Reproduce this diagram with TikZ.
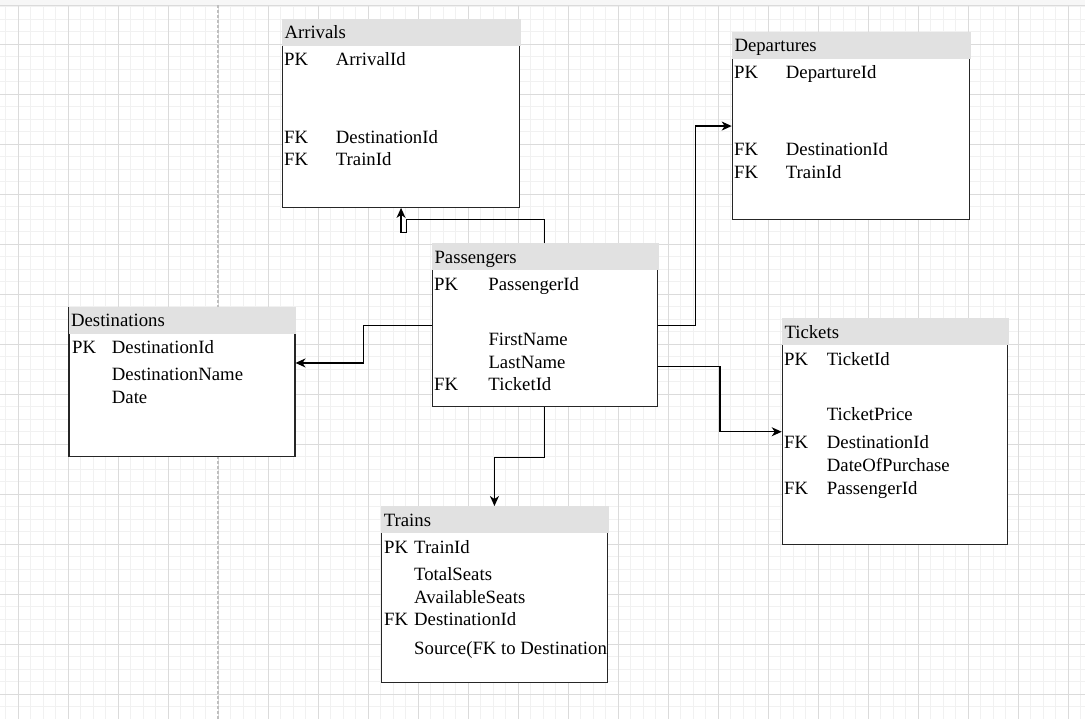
\documentclass[tikz,border=0pt]{standalone}
\usepackage{fontspec}
\setmainfont{Liberation Serif}
\usetikzlibrary{positioning, arrows.meta, calc}

\definecolor{headgray}{HTML}{E1E1E1}
\definecolor{gridmajor}{HTML}{DBDBDB}
\definecolor{gridminor}{HTML}{F1F1F1}
\newcommand{\tablefont}{\fontsize{18.75}{22}\selectfont}

\begin{document}
\begin{tikzpicture}[
    x=1pt, y=-1pt,
    % Table styles
    tablebox/.style={
        rectangle,
        draw=black!85,
        fill=white,
        line width=1.2pt,
        inner sep=0pt,
        anchor=north west,
        minimum width=#1
    },
    tablebox/.default=225pt,
    tablehead/.style={
        rectangle,
        fill=headgray,
        inner sep=0pt,
        inner xsep=2.6pt,
        anchor=north west,
        minimum height=27pt,
        text width=#1,
        align=left,
        text height=13pt,
        text depth=0pt,
        font=\tablefont
    },
    tablehead/.default=221.5pt,
    field/.style={
        inner sep=0pt,
        anchor=base west,
        font=\tablefont
    },
    link/.style={
        -{Stealth[length=10pt, width=9pt, inset=3pt]},
        line width=1.2pt,
        draw=black
    },
    minorgrid/.style={draw=gridminor, line width=0.8pt},
    majorgrid/.style={draw=gridmajor, line width=0.8pt}
]

\useasboundingbox (0,0) rectangle (1085,719);

% Canvas
\fill[white] (0,0) rectangle (1085,719);
\fill[black!3] (0,0) rectangle (1085,5.5);
\foreach \i in {0,...,86} {
    \draw[minorgrid] ({5.5+12.5*\i},5.5) -- ({5.5+12.5*\i},719);
}
\foreach \i in {0,...,56} {
    \draw[minorgrid] (0,{6.5+12.5*\i}) -- (1085,{6.5+12.5*\i});
}
\foreach \i in {0,...,21} {
    \draw[majorgrid] ({18+50*\i},5.5) -- ({18+50*\i},719);
}
\foreach \i in {0,...,13} {
    \draw[majorgrid] (0,{44+50*\i}) -- (1085,{44+50*\i});
}
\draw[majorgrid] (0,5.5) -- (1085,5.5);
\draw[black!25, line width=1.2pt, dash pattern=on 3pt off 2pt] (218,5.5) -- (218,719);

% Tables
\node[tablebox=237.5pt, minimum height=188pt] (arrivals) at (281.7,18.7) {};
\node[tablehead=233.8pt] (arrivalshead) at (arrivals.north west) {Arrivals};

\node[tablebox=237.5pt, minimum height=187.5pt] (departures) at (731.7,31.7) {};
\node[tablehead=233.8pt] (departureshead) at (departures.north west) {Departures};

\node[tablebox, minimum height=162.7pt] (passengers) at (431.7,243.3) {};
\node[tablehead] (passengershead) at (passengers.north west) {Passengers};

\node[tablebox=226pt, minimum height=149.3pt] (destinations) at (68.3,306.7) {};
\node[tablehead=222.5pt] (destinationshead) at (destinations.north west) {Destinations};

\node[tablebox, minimum height=225.7pt] (tickets) at (781.7,318.3) {};
\node[tablehead] (ticketshead) at (tickets.north west) {Tickets};

\node[tablebox=225.7pt, minimum height=175.7pt] (trains) at (381,506) {};
\node[tablehead=222.2pt] (trainshead) at (trains.north west) {Trains};

% Fields
\foreach \k/\n/\y [count=\i] in {PK/ArrivalId/66, FK/DestinationId/144, FK/TrainId/166} {
    \node[field] (arr\i) at (284,\y) {\makebox[51.7pt][l]{\k}\n};
}
\foreach \k/\n/\y [count=\i] in {PK/DepartureId/79, FK/DestinationId/156, FK/TrainId/179} {
    \node[field] (dep\i) at (734,\y) {\makebox[51.7pt][l]{\k}\n};
}
\foreach \k/\n/\y [count=\i] in {PK/PassengerId/291, /FirstName/346, /LastName/369, FK/TicketId/391} {
    \node[field] (pas\i) at (434,\y) {\makebox[54.3pt][l]{\k}\n};
}
\foreach \k/\n/\y [count=\i] in {PK/DestinationId/354, /DestinationName/381, /Date/403.3} {
    \node[field] (des\i) at (72,\y) {\makebox[39.7pt][l]{\k}\n};
}
\foreach \k/\n/\y [count=\i] in {PK/TicketId/366, /TicketPrice/420.7, FK/DestinationId/449, /DateOfPurchase/471, FK/PassengerId/494} {
    \node[field] (tic\i) at (784,\y) {\makebox[42.7pt][l]{\k}\n};
}
\foreach \k/\n/\y [count=\i] in {PK/TrainId/553.3, /TotalSeats/580.7, /AvailableSeats/603.3, FK/DestinationId/625} {
    \node[field] (trn\i) at (384,\y) {\makebox[30pt][l]{\k}\n};
}
\begin{scope}
    \clip (trains.north west) rectangle (trains.south east);
    \node[field] (trn5) at (414,654) {Source(FK to DestinationId)};
\end{scope}

% Relations
\draw[link] (passengers.north) -- ++(0,-24) -- ++(-138,0) -- ++(0,13) -| (arrivals.south);
\draw[link] (passengers.west) -- ++(-68.5,0) |- ([yshift=19pt]destinations.east);
\draw[link] (passengers.east) -- ++(37.5,0) |- (departures.west);
\draw[link] ([yshift=-41.3pt]passengers.east) -- ++(62,0) |- (tickets.west);
\draw[link] (passengers.south) -- ++(0,50) -| (trains.north);

\end{tikzpicture}
\end{document}
